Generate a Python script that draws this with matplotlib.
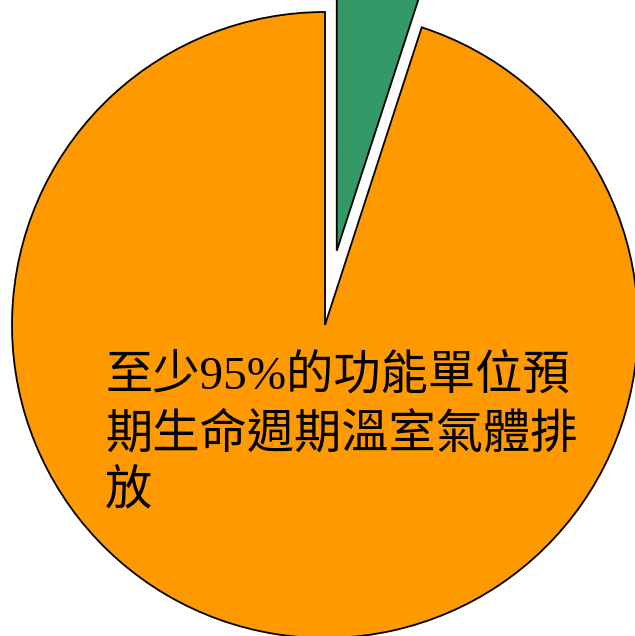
import matplotlib
matplotlib.use("Agg")
import matplotlib.pyplot as plt

# share of functional-unit lifetime GHG emissions
labels = ["其他", "至少95%"]
values = [5, 95]
colors = ["#339966", "#FF9900"]
explode = [0.24, 0]

text_lines = ["至少95%的功能單位預", "期生命週期溫室氣體排", "放"]

W, H = 635, 636
cx, cy, r = 325, 325, 313

fig = plt.figure(figsize=(W / 100, H / 100), dpi=100)
ax = fig.add_axes([0, 0, 1, 1])
ax.pie(values, colors=colors, explode=explode, startangle=90,
       counterclock=False,
       wedgeprops=dict(edgecolor="black", linewidth=1.3))
ax.set_xlim(-cx / r, (W - cx) / r)
ax.set_ylim(-(H - cy) / r, cy / r)
ax.set_aspect("equal")
ax.axis("off")

# label lines, digits from a serif face, CJK from Noto
line_centers = [376, 435, 492]
for line, yc in zip(text_lines, line_centers):
    fig.text(105 / W, 1 - yc / H, line, fontsize=34, va="center", ha="left",
             family=["Liberation Serif", "Noto Sans CJK TC"], color="black")

fig.savefig("out.png", dpi=100)
